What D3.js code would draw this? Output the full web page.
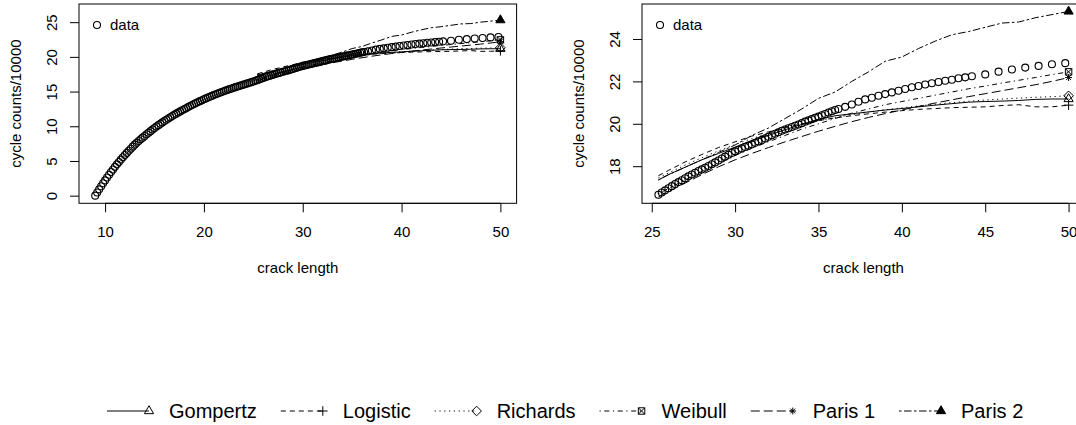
<!DOCTYPE html>
<html>
<head>
<meta charset="utf-8">
<script src="https://cdn.jsdelivr.net/npm/d3@7"></script>
<style>
  html, body { margin: 0; padding: 0; background: #fff; }
  svg { display: block; }
  text { font-family: "Liberation Sans", Arial, Helvetica, sans-serif; fill: #000; }
</style>
</head>
<body>
<svg id="chart" width="1076" height="425"></svg>
<script>
// ---------------- DATA ----------------
const crackLength = [
  9.0, 9.2, 9.4, 9.6, 9.8, 10.0, 10.2, 10.4, 10.6, 10.8,
  11.0, 11.2, 11.4, 11.6, 11.8, 12.0, 12.2, 12.4, 12.6, 12.8,
  13.0, 13.2, 13.4, 13.6, 13.8, 14.0, 14.2, 14.4, 14.6, 14.8,
  15.0, 15.2, 15.4, 15.6, 15.8, 16.0, 16.2, 16.4, 16.6, 16.8,
  17.0, 17.2, 17.4, 17.6, 17.8, 18.0, 18.2, 18.4, 18.6, 18.8,
  19.0, 19.2, 19.4, 19.6, 19.8, 20.0, 20.2, 20.4, 20.6, 20.8,
  21.0, 21.2, 21.4, 21.6, 21.8, 22.0, 22.2, 22.4, 22.6, 22.8,
  23.0, 23.2, 23.4, 23.6, 23.8, 24.0, 24.2, 24.4, 24.6, 24.8,
  25.0, 25.2, 25.4, 25.6, 25.8, 26.0, 26.2, 26.4, 26.6, 26.8,
  27.0, 27.2, 27.4, 27.6, 27.8, 28.0, 28.2, 28.4, 28.6, 28.8,
  29.0, 29.2, 29.4, 29.6, 29.8, 30.0, 30.2, 30.4, 30.6, 30.8,
  31.0, 31.2, 31.4, 31.6, 31.8, 32.0, 32.2, 32.4, 32.6, 32.8,
  33.0, 33.2, 33.4, 33.6, 33.8, 34.0, 34.2, 34.4, 34.6, 34.8,
  35.0, 35.2, 35.4, 35.6, 35.8, 36.0, 36.2,
  36.6, 37.0, 37.4, 37.8, 38.2, 38.6, 39.0, 39.4, 39.8, 40.2,
  40.6, 41.0, 41.4, 41.8, 42.2, 42.6, 43.0, 43.4, 43.8, 44.2,
  45.0, 45.8, 46.6, 47.4, 48.2, 49.0, 49.8
];
const cycles = [
  0.00, 0.46, 0.91, 1.35, 1.78, 2.20, 2.61, 3.01, 3.40, 3.78,
  4.15, 4.51, 4.86, 5.20, 5.53, 5.85, 6.16, 6.47, 6.77, 7.06,
  7.35, 7.61, 7.87, 8.12, 8.36, 8.60, 8.84, 9.07, 9.30, 9.53,
  9.75, 9.96, 10.16, 10.36, 10.56, 10.75, 10.94, 11.12, 11.30, 11.48,
  11.65, 11.82, 11.98, 12.14, 12.30, 12.45, 12.60, 12.76, 12.91, 13.06,
  13.20, 13.34, 13.48, 13.62, 13.76, 13.90, 14.02, 14.14, 14.26, 14.38,
  14.50, 14.61, 14.72, 14.83, 14.94, 15.05, 15.15, 15.25, 15.35, 15.45,
  15.55, 15.64, 15.73, 15.82, 15.91, 16.00, 16.09, 16.18, 16.27, 16.36,
  16.45, 16.55, 16.65, 16.76, 16.86, 16.96, 17.06, 17.16, 17.25, 17.34,
  17.43, 17.52, 17.61, 17.69, 17.77, 17.85, 17.93, 18.01, 18.09, 18.18,
  18.27, 18.36, 18.45, 18.54, 18.62, 18.70, 18.77, 18.84, 18.91, 18.97,
  19.03, 19.10, 19.17, 19.24, 19.31, 19.39, 19.46, 19.53, 19.60, 19.67,
  19.73, 19.79, 19.85, 19.91, 19.97, 20.03, 20.10, 20.16, 20.22, 20.28,
  20.34, 20.40, 20.46, 20.53, 20.59, 20.65, 20.70,
  20.80, 20.91, 21.04, 21.15, 21.23, 21.32, 21.40, 21.48, 21.56, 21.64,
  21.72, 21.78, 21.85, 21.91, 21.97, 22.03, 22.08, 22.15, 22.19, 22.24,
  22.33, 22.46, 22.56, 22.65, 22.73, 22.81, 22.86
];

// model predictions (cycle counts / 10000) at these crack lengths
const modelX    = [25.4, 26, 27, 28, 29, 30, 31, 32, 33, 34, 35, 36, 37, 38, 39, 40, 41, 42, 43, 44, 45, 46, 47, 48, 49, 50];
const gompertz  = [17.35, 17.60, 17.95, 18.30, 18.60, 18.90, 19.20, 19.45, 19.72, 19.97, 20.20, 20.38, 20.47, 20.56, 20.65, 20.72, 20.80, 20.88, 20.95, 21.02, 21.05, 21.07, 21.10, 21.15, 21.17, 21.17];
const logistic  = [17.55, 17.80, 18.20, 18.55, 18.88, 19.15, 19.42, 19.62, 19.82, 20.00, 20.15, 20.28, 20.38, 20.47, 20.55, 20.62, 20.68, 20.72, 20.76, 20.78, 20.80, 20.86, 20.90, 20.80, 20.80, 20.88];
const richards  = [17.45, 17.68, 18.05, 18.40, 18.72, 19.02, 19.30, 19.55, 19.78, 19.98, 20.15, 20.30, 20.43, 20.55, 20.66, 20.75, 20.84, 20.92, 21.00, 21.06, 21.12, 21.17, 21.21, 21.25, 21.28, 21.32];
const weibull   = [16.70, 16.95, 17.35, 17.75, 18.15, 18.50, 18.85, 19.15, 19.45, 19.75, 20.00, 20.25, 20.50, 20.70, 20.90, 21.05, 21.20, 21.35, 21.50, 21.65, 21.78, 21.92, 22.05, 22.18, 22.32, 22.45];
const paris1    = [16.55, 16.80, 17.20, 17.60, 17.97, 18.30, 18.60, 18.88, 19.15, 19.40, 19.65, 19.88, 20.10, 20.30, 20.48, 20.65, 20.82, 20.98, 21.13, 21.28, 21.42, 21.56, 21.70, 21.84, 22.00, 22.18];
const paris2    = [17.35, 17.60, 17.95, 18.30, 18.65, 19.00, 19.45, 19.80, 20.25, 20.70, 21.20, 21.50, 22.00, 22.45, 22.95, 23.15, 23.55, 23.90, 24.20, 24.35, 24.55, 24.75, 24.80, 25.00, 25.15, 25.30];

const modelNames = ["Gompertz", "Logistic", "Richards", "Weibull", "Paris 1", "Paris 2"];
const modelSeries = [gompertz, logistic, richards, weibull, paris1, paris2];

const leftXTicks  = [10, 20, 30, 40, 50];
const leftYTicks  = [0, 5, 10, 15, 20, 25];
const rightXTicks = [25, 30, 35, 40, 45, 50];
const rightYTicks = [18, 20, 22, 24];

const xLabel = "crack length";
const yLabel = "cycle counts/10000";
const dataLabel = "data";

// ---------------- STYLE ----------------
const dashes = [null, "5,4", "1.2,3.6", "1.2,3.6,5,3.6", "9,4", "2.5,2.5,7.5,2.5"];
const symbolKind = ["tri", "plus", "diamond", "sqx", "star", "tritfill"];

const svg = d3.select("#chart");
const FONT = 15;

function drawSymbol(g, kind, x, y) {
  const R = 3.4;
  const s = g.append("g").attr("transform", `translate(${x},${y})`)
    .attr("fill", "none").attr("stroke", "#000").attr("stroke-width", 1);
  if (kind === "tri" || kind === "tritfill") {
    const r = 1.5551 * R, yc = r / 2, xc = r * Math.sqrt(3) / 2;
    s.append("path").attr("d", `M0,${-r}L${xc},${yc}L${-xc},${yc}Z`)
      .attr("fill", kind === "tritfill" ? "#000" : "none");
  } else if (kind === "plus") {
    const c = Math.SQRT2 * R;
    s.append("path").attr("d", `M${-c},0H${c}M0,${-c}V${c}`);
  } else if (kind === "diamond") {
    const c = Math.SQRT2 * R;
    s.append("path").attr("d", `M0,${-c}L${c},0L0,${c}L${-c},0Z`);
  } else if (kind === "sqx") {
    const c = R * 0.95;
    s.append("path").attr("d", `M${-c},${-c}H${c}V${c}H${-c}Z M${-c},${-c}L${c},${c}M${-c},${c}L${c},${-c}`);
  } else if (kind === "star") {
    const c = R, d = R * Math.SQRT1_2;
    s.append("path").attr("d", `M${-c},0H${c}M0,${-c}V${c}M${-d},${-d}L${d},${d}M${-d},${d}L${d},${-d}`);
  }
}

function panel(opts) {
  const { left, right, top, bottom, xDomain, yDomain, xTicks, yTicks, xMin, id } = opts;
  const x = d3.scaleLinear().domain(xDomain).range([left, right]);
  const y = d3.scaleLinear().domain(yDomain).range([bottom, top]);
  const g = svg.append("g");

  svg.append("clipPath").attr("id", id).append("rect")
    .attr("x", left).attr("y", top).attr("width", right - left).attr("height", bottom - top);

  // x axis
  const ax = g.append("g").attr("transform", `translate(0,${bottom})`)
    .call(d3.axisBottom(x).tickValues(xTicks).tickSize(9).tickFormat(d3.format("d")));
  ax.select(".domain").remove();
  ax.selectAll(".tick line").attr("stroke", "#000");
  ax.selectAll(".tick text").attr("y", 28.7).attr("dy", "0.36em")
    .style("font-size", FONT + "px").style("font-family", '"Liberation Sans", Arial, sans-serif');
  ax.append("path").attr("d", `M${x(xTicks[0])},0H${x(xTicks[xTicks.length - 1])}`).attr("stroke", "#000");

  // y axis
  const ay = g.append("g").attr("transform", `translate(${left},0)`)
    .call(d3.axisLeft(y).tickValues(yTicks).tickSize(9).tickFormat(d3.format("d")));
  ay.select(".domain").remove();
  ay.selectAll(".tick line").attr("stroke", "#000");
  ay.selectAll(".tick text")
    .attr("transform", "rotate(-90)")
    .attr("x", 0).attr("y", -27).attr("dy", "0.36em")
    .attr("text-anchor", "middle")
    .style("font-size", FONT + "px").style("font-family", '"Liberation Sans", Arial, sans-serif');

  // box
  g.append("rect").attr("x", left).attr("y", top).attr("width", right - left).attr("height", bottom - top)
    .attr("fill", "none").attr("stroke", "#000").attr("stroke-width", 1);

  // axis titles
  g.append("text").attr("x", (left + right) / 2).attr("y", 267.7).attr("dy", "0.36em")
    .attr("text-anchor", "middle").style("font-size", FONT + "px").text(xLabel);
  g.append("text").attr("transform", `translate(${left - 63},${(top + bottom) / 2}) rotate(-90)`)
    .attr("dy", "0.36em").attr("text-anchor", "middle").style("font-size", FONT + "px").text(yLabel);

  const plot = g.append("g").attr("clip-path", `url(#${id})`);

  // data points
  const pts = crackLength.map((c, i) => [c, cycles[i]]).filter(d => d[0] >= xMin);
  plot.append("g").selectAll("circle").data(pts).join("circle")
    .attr("cx", d => x(d[0])).attr("cy", d => y(d[1])).attr("r", 3.5)
    .attr("fill", "none").attr("stroke", "#000").attr("stroke-width", 1.1);

  // model curves
  const line = d3.line().x(d => x(d[0])).y(d => y(d[1]));
  modelSeries.forEach((vals, k) => {
    const pts2 = modelX.map((mx, i) => [mx, vals[i]]);
    plot.append("path").datum(pts2).attr("d", line)
      .attr("fill", "none").attr("stroke", "#000").attr("stroke-width", 1)
      .attr("stroke-dasharray", dashes[k]);
    const last = pts2[pts2.length - 1];
    drawSymbol(plot, symbolKind[k], x(last[0]), y(last[1]));
  });

  // "data" legend
  g.append("circle").attr("cx", left + 18).attr("cy", 25).attr("r", 3.5)
    .attr("fill", "none").attr("stroke", "#000").attr("stroke-width", 1.1);
  g.append("text").attr("x", left + 31).attr("y", 25).attr("dy", "0.36em")
    .style("font-size", FONT + "px").text(dataLabel);
}

panel({ id: "clipL", left: 79, right: 516.6, top: 4, bottom: 203.3,
  xDomain: [7.36, 51.64], yDomain: [-1.1, 27.62],
  xTicks: leftXTicks, yTicks: leftYTicks, xMin: 0 });

panel({ id: "clipR", left: 642, right: 1085, top: 4, bottom: 203.3,
  xDomain: [24.416, 50.984], yDomain: [16.25, 25.65],
  xTicks: rightXTicks, yTicks: rightYTicks, xMin: 25.3 });

// ---------------- bottom legend ----------------
const leg = svg.append("g");
const LY = 411;
let startX = 107;
modelNames.forEach((name, k) => {
  const symX = startX + 42;
  leg.append("path").attr("d", `M${startX},${LY}H${symX}`)
    .attr("stroke", "#000").attr("stroke-width", 1).attr("fill", "none")
    .attr("stroke-dasharray", dashes[k]);
  drawSymbol(leg, symbolKind[k], symX, LY);
  const t = leg.append("text").attr("x", startX + 62).attr("y", LY).attr("dy", "0.36em")
    .style("font-size", "20px").text(name);
  const w = t.node().getComputedTextLength();
  startX = startX + 62 + w + 24;
});
</script>
</body>
</html>
